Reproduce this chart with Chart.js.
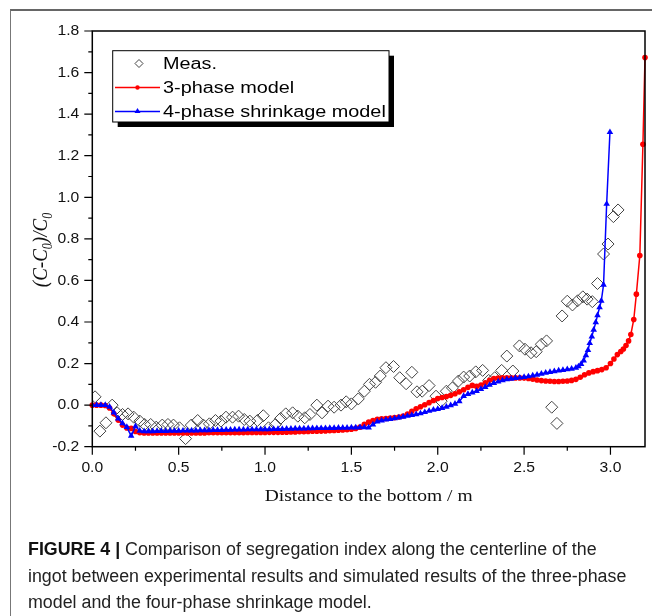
<!DOCTYPE html>
<html>
<head>
<meta charset="utf-8">
<script src="https://cdn.jsdelivr.net/npm/chart.js@4.4.0/dist/chart.umd.min.js"></script>
<style>
  html, body { margin: 0; padding: 0; background: #fff; }
  #wrap { position: relative; width: 652px; height: 616px; overflow: hidden; }
  #frame { position: absolute; left: 10px; top: 9px; width: 700px; height: 700px;
           border-left: 1px solid #777; border-top: 2px solid #666; }
  #caption { position: absolute; left: 28px; top: 536px; width: 620px;
             font-family: 'Liberation Sans Narrow', 'Liberation Sans', Arial, sans-serif;
             font-size: 18px; line-height: 26.5px; color: #222; white-space: nowrap;
             transform: scaleX(0.99); transform-origin: left top; }
  #caption b { color: #111; }
</style>
</head>
<body>
<div id="wrap">
  <canvas id="segChart" width="652" height="616"></canvas>
  <div id="frame"></div>
  <div id="caption"><b>FIGURE 4 |</b> Comparison of segregation index along the centerline of the<br>ingot between experimental results and simulated results of the three-phase<br>model and the four-phase shrinkage model.</div>
</div>
<script>
// tick labels
const xTicks = [0.0, 0.5, 1.0, 1.5, 2.0, 2.5, 3.0];
const yTicks = [-0.2, 0.0, 0.2, 0.4, 0.6, 0.8, 1.0, 1.2, 1.4, 1.6, 1.8];

// measured segregation index
const measX = [0.016, 0.044, 0.079, 0.115, 0.144, 0.175, 0.207, 0.240, 0.275, 0.303, 0.338, 0.370,
  0.405, 0.438, 0.470, 0.505, 0.540, 0.573, 0.610, 0.643, 0.678, 0.713, 0.745, 0.774, 0.812, 0.847,
  0.880, 0.912, 0.956, 0.990, 1.020, 1.060, 1.090, 1.120, 1.160, 1.190, 1.230, 1.260, 1.300, 1.330,
  1.365, 1.400, 1.440, 1.470, 1.500, 1.540, 1.575, 1.605, 1.640, 1.667, 1.700, 1.744, 1.780, 1.817,
  1.850, 1.880, 1.910, 1.950, 1.990, 2.020, 2.050, 2.085, 2.120, 2.150, 2.185, 2.220, 2.260, 2.295,
  2.330, 2.370, 2.400, 2.435, 2.473, 2.505, 2.540, 2.570, 2.600, 2.630, 2.660, 2.690, 2.720, 2.750,
  2.780, 2.810, 2.840, 2.865, 2.895, 2.925, 2.960, 2.986, 3.017, 3.044];
const measY = [0.040, -0.125, -0.085, 0.000, -0.037, -0.045, -0.042, -0.058, -0.077, -0.093, -0.093, -0.106,
  -0.096, -0.093, -0.096, -0.109, -0.161, -0.096, -0.074, -0.096, -0.090, -0.074, -0.077, -0.058, -0.058, -0.053,
  -0.069, -0.077, -0.074, -0.051, -0.109, -0.093, -0.064, -0.042, -0.037, -0.053, -0.061, -0.045, 0.000, -0.037,
  -0.005, -0.010, 0.000, 0.016, 0.006, 0.030, 0.067, 0.100, 0.110, 0.140, 0.180, 0.186, 0.132, 0.103,
  0.158, 0.064, 0.067, 0.094, 0.043, 0.019, 0.067, 0.083, 0.116, 0.135, 0.140, 0.160, 0.167, 0.119,
  0.132, 0.167, 0.236, 0.164, 0.285, 0.269, 0.252, 0.257, 0.293, 0.309, -0.010, -0.088, 0.429, 0.500,
  0.482, 0.502, 0.521, 0.510, 0.498, 0.585, 0.727, 0.775, 0.907, 0.939];

// 3-phase model
const threePhaseX = [0.000, 0.025, 0.050, 0.075, 0.100, 0.125, 0.150, 0.175, 0.200, 0.225, 0.250, 0.275,
  0.300, 0.325, 0.350, 0.375, 0.400, 0.425, 0.450, 0.475, 0.500, 0.525, 0.550, 0.575, 0.600, 0.625,
  0.650, 0.675, 0.700, 0.725, 0.750, 0.775, 0.800, 0.825, 0.850, 0.875, 0.900, 0.925, 0.950, 0.975,
  1.000, 1.025, 1.050, 1.075, 1.100, 1.125, 1.150, 1.175, 1.200, 1.225, 1.250, 1.275, 1.300, 1.325,
  1.350, 1.375, 1.400, 1.425, 1.450, 1.475, 1.500, 1.525, 1.550, 1.575, 1.600, 1.625, 1.650, 1.675,
  1.700, 1.725, 1.750, 1.775, 1.800, 1.825, 1.850, 1.875, 1.900, 1.925, 1.950, 1.975, 2.000, 2.025,
  2.050, 2.075, 2.100, 2.125, 2.150, 2.175, 2.200, 2.225, 2.250, 2.275, 2.300, 2.325, 2.350, 2.375,
  2.400, 2.425, 2.450, 2.475, 2.500, 2.525, 2.550, 2.575, 2.600, 2.625, 2.650, 2.675, 2.700, 2.725,
  2.750, 2.775, 2.800, 2.825, 2.850, 2.875, 2.900, 2.925, 2.950, 2.975, 3.000, 3.020, 3.040, 3.060,
  3.075, 3.090, 3.105, 3.118, 3.135, 3.150, 3.170, 3.188, 3.200];
const threePhaseY = [0.000, 0.000, 0.000, -0.002, -0.014, -0.042, -0.072, -0.096, -0.110, -0.112, -0.127, -0.133,
  -0.134, -0.134, -0.134, -0.134, -0.134, -0.134, -0.134, -0.134, -0.134, -0.134, -0.134, -0.134, -0.134, -0.134,
  -0.134, -0.133, -0.133, -0.133, -0.133, -0.133, -0.133, -0.133, -0.133, -0.133, -0.132, -0.132, -0.132, -0.132,
  -0.132, -0.131, -0.131, -0.131, -0.130, -0.130, -0.129, -0.129, -0.128, -0.128, -0.127, -0.126, -0.126, -0.125,
  -0.124, -0.123, -0.122, -0.121, -0.120, -0.118, -0.116, -0.112, -0.106, -0.092, -0.082, -0.074, -0.068, -0.066,
  -0.064, -0.062, -0.060, -0.057, -0.052, -0.043, -0.030, -0.018, -0.008, 0.002, 0.012, 0.022, 0.032, 0.037,
  0.041, 0.047, 0.055, 0.064, 0.074, 0.086, 0.095, 0.090, 0.097, 0.108, 0.120, 0.128, 0.130, 0.131,
  0.131, 0.131, 0.131, 0.131, 0.130, 0.128, 0.125, 0.121, 0.118, 0.116, 0.115, 0.114, 0.114, 0.115,
  0.116, 0.119, 0.124, 0.134, 0.146, 0.155, 0.161, 0.166, 0.171, 0.180, 0.200, 0.222, 0.243, 0.258,
  0.270, 0.287, 0.309, 0.340, 0.412, 0.534, 0.720, 1.255, 1.672];

// 4-phase shrinkage model
const fourPhaseX = [0.000, 0.025, 0.050, 0.075, 0.100, 0.125, 0.150, 0.175, 0.200, 0.225, 0.250, 0.275,
  0.300, 0.325, 0.350, 0.375, 0.400, 0.425, 0.450, 0.475, 0.500, 0.525, 0.550, 0.575, 0.600, 0.625,
  0.650, 0.675, 0.700, 0.725, 0.750, 0.775, 0.800, 0.825, 0.850, 0.875, 0.900, 0.925, 0.950, 0.975,
  1.000, 1.025, 1.050, 1.075, 1.100, 1.125, 1.150, 1.175, 1.200, 1.225, 1.250, 1.275, 1.300, 1.325,
  1.350, 1.375, 1.400, 1.425, 1.450, 1.475, 1.500, 1.525, 1.550, 1.575, 1.600, 1.625, 1.650, 1.675,
  1.700, 1.725, 1.750, 1.775, 1.800, 1.825, 1.850, 1.875, 1.900, 1.925, 1.950, 1.975, 2.000, 2.025,
  2.050, 2.075, 2.100, 2.125, 2.150, 2.175, 2.200, 2.225, 2.250, 2.275, 2.300, 2.325, 2.350, 2.375,
  2.400, 2.425, 2.450, 2.475, 2.500, 2.525, 2.550, 2.575, 2.600, 2.625, 2.650, 2.675, 2.700, 2.725,
  2.750, 2.775, 2.800, 2.815, 2.830, 2.845, 2.858, 2.870, 2.880, 2.892, 2.903, 2.915, 2.925, 2.937,
  2.947, 2.960, 2.978, 2.997];
const fourPhaseY = [0.000, 0.000, 0.000, 0.000, -0.008, -0.036, -0.065, -0.088, -0.106, -0.148, -0.102, -0.124,
  -0.126, -0.126, -0.126, -0.125, -0.125, -0.125, -0.124, -0.124, -0.124, -0.123, -0.123, -0.122, -0.122, -0.121,
  -0.121, -0.121, -0.120, -0.120, -0.120, -0.119, -0.119, -0.118, -0.118, -0.118, -0.117, -0.117, -0.117, -0.116,
  -0.116, -0.116, -0.115, -0.115, -0.115, -0.114, -0.114, -0.113, -0.113, -0.113, -0.112, -0.112, -0.111, -0.111,
  -0.111, -0.110, -0.110, -0.109, -0.109, -0.109, -0.108, -0.108, -0.107, -0.107, -0.108, -0.094, -0.079, -0.074,
  -0.070, -0.067, -0.064, -0.060, -0.056, -0.052, -0.048, -0.044, -0.040, -0.034, -0.028, -0.023, -0.019, -0.014,
  -0.008, -0.001, 0.006, 0.018, 0.044, 0.053, 0.060, 0.068, 0.077, 0.087, 0.097, 0.106, 0.113, 0.119,
  0.124, 0.127, 0.130, 0.132, 0.135, 0.138, 0.142, 0.146, 0.151, 0.155, 0.159, 0.163, 0.166, 0.169,
  0.172, 0.175, 0.179, 0.186, 0.198, 0.214, 0.240, 0.265, 0.298, 0.330, 0.362, 0.398, 0.432, 0.470,
  0.502, 0.579, 0.968, 1.313];

const toPoints = (xs, ys) => xs.map((x, i) => ({ x: x, y: ys[i] }));

const SANS = "'Liberation Sans', Arial, sans-serif";
const SERIF = "'Liberation Serif', 'Times New Roman', serif";

// text drawn a bit wider than tall, like the exported figure
function wideText(ctx, text, x, y, sx, align) {
  ctx.save();
  ctx.translate(x, y);
  ctx.scale(sx, 1);
  ctx.textAlign = align;
  ctx.fillText(text, 0, 0);
  ctx.restore();
}

const axesDecor = {
  id: 'axesDecor',
  afterDatasetsDraw(chart) {
    const { ctx, chartArea: { left, right, top, bottom }, scales: { x, y } } = chart;
    ctx.save();

    // frame
    ctx.strokeStyle = '#000';
    ctx.lineWidth = 1.5;
    ctx.strokeRect(left, top, right - left, bottom - top);

    // ticks, major and minor, pointing out
    ctx.lineWidth = 1.2;
    ctx.beginPath();
    for (let i = 0; i < yTicks.length; i++) {
      const py = y.getPixelForValue(yTicks[i]);
      ctx.moveTo(left, py); ctx.lineTo(left - 8, py);
      if (i < yTicks.length - 1) {
        const pm = y.getPixelForValue((yTicks[i] + yTicks[i + 1]) / 2);
        ctx.moveTo(left, pm); ctx.lineTo(left - 4, pm);
      }
    }
    for (let i = 0; i < xTicks.length; i++) {
      const px = x.getPixelForValue(xTicks[i]);
      ctx.moveTo(px, bottom); ctx.lineTo(px, bottom + 8);
      const pm = x.getPixelForValue(xTicks[i] + 0.25);
      if (pm < right) { ctx.moveTo(pm, bottom); ctx.lineTo(pm, bottom + 4); }
    }
    ctx.stroke();

    // tick labels
    ctx.fillStyle = '#111';
    ctx.font = '14px ' + SANS;
    ctx.textBaseline = 'middle';
    yTicks.forEach(v => {
      wideText(ctx, v.toFixed(1), left - 13, y.getPixelForValue(v) + 0.5, 1.12, 'right');
    });
    xTicks.forEach(v => {
      wideText(ctx, v.toFixed(1), x.getPixelForValue(v), bottom + 21, 1.12, 'center');
    });

    // x title
    ctx.font = '17px ' + SERIF;
    wideText(ctx, 'Distance to the bottom / m', (left + right) / 2, bottom + 50, 1.15, 'center');

    // y title (C-C0)/C0 with subscripts, reading upwards
    ctx.save();
    ctx.translate(40, 250);
    ctx.rotate(-Math.PI / 2);
    ctx.scale(1, 1.15);
    const parts = [
      ['(', false], ['C', false], ['-', false], ['C', false], ['0', true],
      [')/', false], ['C', false], ['0', true]
    ];
    const big = 'italic 19px ' + SERIF, small = 'italic 12px ' + SERIF;
    let w = 0;
    parts.forEach(p => { ctx.font = p[1] ? small : big; w += ctx.measureText(p[0]).width; });
    let cx = -w / 2;
    ctx.textAlign = 'left';
    ctx.textBaseline = 'alphabetic';
    parts.forEach(p => {
      ctx.font = p[1] ? small : big;
      ctx.fillText(p[0], cx, p[1] ? 10 : 6);
      cx += ctx.measureText(p[0]).width;
    });
    ctx.restore();

    // legend box with drop shadow
    const bx = 112.7, by = 50.7, bw = 276.3, bh = 71.3;
    ctx.fillStyle = '#000';
    ctx.fillRect(bx + 5, by + 5, bw, bh);
    ctx.fillStyle = '#fff';
    ctx.fillRect(bx, by, bw, bh);
    ctx.strokeStyle = '#000';
    ctx.lineWidth = 1;
    ctx.strokeRect(bx, by, bw, bh);

    const rows = [63.5, 87.5, 111.5];
    // Meas. symbol
    ctx.strokeStyle = '#444';
    ctx.beginPath();
    ctx.moveTo(139, rows[0] - 4); ctx.lineTo(143, rows[0]); ctx.lineTo(139, rows[0] + 4); ctx.lineTo(135, rows[0]);
    ctx.closePath(); ctx.stroke();
    // 3-phase model symbol
    ctx.strokeStyle = '#ff0000'; ctx.fillStyle = '#ff0000'; ctx.lineWidth = 1.5;
    ctx.beginPath(); ctx.moveTo(115, rows[1]); ctx.lineTo(160, rows[1]); ctx.stroke();
    ctx.beginPath(); ctx.arc(137.5, rows[1], 2.2, 0, Math.PI * 2); ctx.fill();
    // 4-phase symbol
    ctx.strokeStyle = '#0000ff'; ctx.fillStyle = '#0000ff';
    ctx.beginPath(); ctx.moveTo(115, rows[2]); ctx.lineTo(160, rows[2]); ctx.stroke();
    ctx.beginPath(); ctx.moveTo(137.5, rows[2] - 3.5); ctx.lineTo(140.5, rows[2] + 1.5); ctx.lineTo(134.5, rows[2] + 1.5);
    ctx.closePath(); ctx.fill();

    ctx.fillStyle = '#000';
    ctx.font = '16px ' + SANS;
    ctx.textBaseline = 'middle';
    wideText(ctx, 'Meas.', 163, rows[0] + 1, 1.24, 'left');
    wideText(ctx, '3-phase model', 163, rows[1] + 1, 1.24, 'left');
    wideText(ctx, '4-phase shrinkage model', 163, rows[2] + 1, 1.24, 'left');

    ctx.restore();
  }
};

const chart = new Chart(document.getElementById('segChart'), {
  type: 'scatter',
  data: {
    datasets: [
      {
        label: 'Meas.',
        data: toPoints(measX, measY),
        pointStyle: 'rectRot',
        pointRadius: 6,
        pointBorderWidth: 1,
        pointBorderColor: '#444',
        pointBackgroundColor: 'rgba(0,0,0,0)',
        showLine: false,
        order: 3
      },
      {
        label: '3-phase model',
        data: toPoints(threePhaseX, threePhaseY),
        showLine: true,
        borderColor: '#ff0000',
        borderWidth: 1.5,
        pointStyle: 'circle',
        pointRadius: 2.8,
        pointBorderWidth: 0,
        pointBackgroundColor: '#ff0000',
        clip: false,
        order: 2
      },
      {
        label: '4-phase shrinkage model',
        data: toPoints(fourPhaseX, fourPhaseY),
        showLine: true,
        borderColor: '#0000ff',
        borderWidth: 1.5,
        pointStyle: 'triangle',
        pointRadius: 3.8,
        pointBorderWidth: 0,
        pointBackgroundColor: '#0000ff',
        order: 1
      }
    ]
  },
  options: {
    responsive: false,
    animation: false,
    devicePixelRatio: 1,
    layout: { padding: { top: 31, right: 4.7, bottom: 0, left: 0 } },
    plugins: { legend: { display: false }, tooltip: { enabled: false } },
    scales: {
      x: {
        type: 'linear', min: 0, max: 3.2,
        ticks: { display: false },
        grid: { display: false },
        border: { display: false },
        afterFit(scale) { scale.height = 169.3; }
      },
      y: {
        type: 'linear', min: -0.2, max: 1.8,
        ticks: { display: false },
        grid: { display: false },
        border: { display: false },
        afterFit(scale) { scale.width = 92.3; }
      }
    }
  },
  plugins: [axesDecor]
});
</script>
</body>
</html>
